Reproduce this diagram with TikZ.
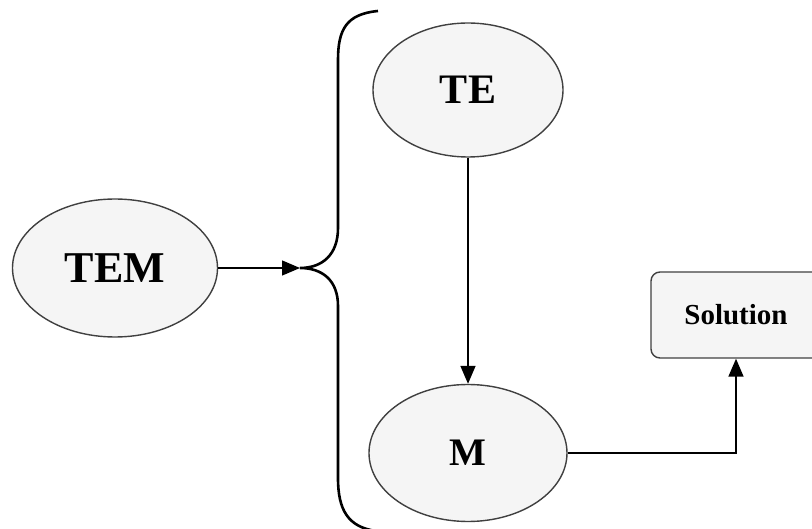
\documentclass[tikz,border=0pt]{standalone}
\usepackage{fontspec}
\setmainfont{Liberation Serif}
\usetikzlibrary{shapes.geometric,arrows.meta}

\begin{document}
\begin{tikzpicture}[x=1pt,y=-1pt,
    blob/.style={ellipse,draw=black!75,line width=1.4pt,fill=gray!8,
      inner sep=0pt,font=\bfseries\fontsize{42}{48}\selectfont},
    link/.style={line width=1.6pt,-{Triangle[length=18pt,width=15pt]}}]
  \useasboundingbox (0,0) rectangle (812,529);
  \node[blob,minimum width=205,minimum height=138,
    font=\bfseries\fontsize{44}{50}\selectfont] (tem) at (115,268) {TEM};
  \node[blob,minimum width=190,minimum height=134] (te) at (468,90) {TE};
  \node[blob,minimum width=198,minimum height=137,
    font=\bfseries\fontsize{39}{44}\selectfont] (m) at (468,453) {M};
  \node[draw=black!75,line width=1.4pt,fill=gray!8,rounded corners=9pt,
    minimum width=170,minimum height=86,
    font=\bfseries\fontsize{29}{34}\selectfont] (sol) at (736,315) {Solution};
  % the brace and its tip
  \coordinate (tip) at (300,268);
  \draw[line width=2.6pt] (378,11) .. controls (346,14) and (338,30) .. (338,60)
    -- (338,228) .. controls (338,255) and (322,268) .. (tip)
    .. controls (322,268) and (338,280) .. (338,306)
    -- (338,478) .. controls (338,510) and (348,527) .. (376,531);
  \draw[link,line width=1.3pt] (tem) -- (tip);
  \draw[link] (te) -- (m);
  \draw[link] (m.east) -| (sol.south);
\end{tikzpicture}
\end{document}
